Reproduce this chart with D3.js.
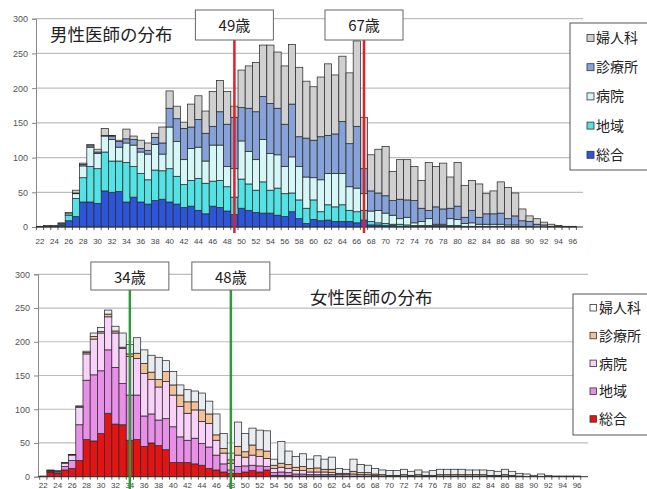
<!DOCTYPE html>
<html><head><meta charset="utf-8">
<script src="https://cdn.jsdelivr.net/npm/d3@7"></script>
<style>html,body{margin:0;padding:0;background:#fff}svg{display:block}</style>
</head><body><svg id="c" width="647" height="489"></svg>
<script>
// ---------- data ----------
const ages = [22,23,24,25,26,27,28,29,30,31,32,33,34,35,36,37,38,39,40,41,42,43,44,45,46,47,48,49,50,51,52,53,54,55,56,57,58,59,60,61,62,63,64,65,66,67,68,69,70,71,72,73,74,75,76,77,78,79,80,81,82,83,84,85,86,87,88,89,90,91,92,93,94,95,96];
const xTickAges = [22,24,26,28,30,32,34,36,38,40,42,44,46,48,50,52,54,56,58,60,62,64,66,68,70,72,74,76,78,80,82,84,86,88,90,92,94,96];
const yTicks = [0,50,100,150,200,250,300];
const seriesNames = ["総合","地域","病院","診療所","婦人科"];
const legendOrder = ["婦人科","診療所","病院","地域","総合"];

const maleSogo = [1,1,1,2,9,15,36,36,34,52, 50,51,36,43,36,33,38,40,36,33, 28,30,24,19,30,28,23,18,27,24, 21,20,20,17,15,22,12,5,11,9, 10,8,8,8,6,10,3,3,2,2, 1,1,1,1,1,1,1,1,1,0, 0,0,0,0,0,0,0,0,0,0,0,0,0,0,0];
const maleChiiki = [0,0,1,2,8,26,35,51,50,56, 45,44,57,44,41,35,44,41,48,40, 33,37,46,44,36,39,35,25,42,38, 32,45,33,39,33,27,27,22,28,13, 22,21,24,16,16,14,5,3,3,2, 3,2,1,1,1,1,1,1,1,1, 1,1,1,1,1,1,1,0,0,0,0,0,0,0,0];
const maleByoin = [0,0,0,1,2,7,17,28,22,23, 31,20,28,31,31,37,37,24,60,50, 36,46,45,32,52,51,29,41,55,47, 44,61,53,48,39,52,48,45,32,46, 45,48,45,34,34,24,15,18,15,13, 8,11,4,6,10,2,2,10,9,4, 5,3,3,3,3,2,2,1,1,0,0,0,0,0,0];
const maleShinryo = [0,0,0,0,0,1,2,2,2,1, 5,8,6,8,5,5,10,16,27,33, 45,31,40,40,27,48,61,74,48,62, 69,62,72,67,61,76,43,56,54,62, 55,57,75,62,89,36,29,25,25,21, 28,25,32,19,12,25,22,15,19,9, 18,10,15,15,16,9,13,8,7,4,3,1,1,0,0];
const maleFujin = [0,1,0,1,2,4,2,2,4,10, 1,2,14,5,12,11,6,23,25,18, 9,33,34,32,50,45,47,16,54,61, 71,74,84,81,84,86,100,82,77,86, 103,85,94,102,123,74,52,63,71,42, 57,58,49,40,69,58,66,45,63,46, 43,48,29,33,45,45,33,17,8,8,4,3,1,1,1];

const femaleSogo = [1,7,5,10,12,24,55,53,64,94, 78,77,54,55,45,50,46,40,21,21, 21,19,17,12,10,7,5,5,7,9, 7,10,2,2,2,1,1,1,1,1, 1,0,0,0,0,0,0,0,0,0, 0,0,0,0,0,0,0,0,0,0, 0,0,0,0,0,0,0,0,0,0,0,0,0,0,0];
const femaleChiiki = [0,1,2,5,12,53,88,98,93,94, 84,61,67,66,45,43,38,46,53,38, 33,38,32,32,22,12,5,10,9,8, 9,5,4,5,4,3,3,2,2,2, 2,1,1,1,1,1,0,0,0,0, 0,0,0,0,0,0,0,0,0,0, 0,0,0,0,0,0,0,0,0,0,0,0,0,0,0];
const femaleByoin = [0,1,1,5,8,26,39,53,56,49, 51,52,57,54,63,51,49,55,47,45, 40,42,33,35,22,16,10,17,13,15, 14,12,6,7,6,5,5,4,4,4, 3,2,2,3,2,2,2,1,1,1, 1,1,1,1,1,1,1,1,1,1, 1,1,1,1,1,1,0,0,0,0,0,0,0,0,0];
const femaleShinryo = [0,0,0,0,0,1,2,4,2,4, 3,2,4,8,15,11,11,15,15,17, 17,12,17,14,8,7,5,13,8,15, 10,11,5,6,6,5,6,5,6,4, 5,2,2,4,3,3,2,2,1,1, 2,1,2,1,1,2,2,2,2,2, 2,2,1,1,2,1,1,0,0,0,0,0,0,0,0];
const femaleFujin = [0,1,1,1,1,1,2,5,6,6, 7,21,14,23,20,25,33,16,20,15, 18,16,25,19,31,22,10,36,27,25, 29,30,9,32,20,16,19,14,18,15, 18,7,6,18,12,11,8,7,7,7, 8,6,7,5,7,8,8,8,8,7, 7,7,7,6,8,6,4,4,2,4,2,1,1,1,1];

const maleMarkers = [49,67];
const femaleMarkers = [34,48];
const maleTitle = "男性医師の分布";
const femaleTitle = "女性医師の分布";

// ---------- drawing ----------
const svg = d3.select("#c");
svg.append("rect").attr("width",647).attr("height",489).attr("fill","#fff");
const numFont = "'Liberation Sans', Arial, sans-serif";
const jpFont = "'Noto Sans CJK JP', 'Noto Sans', sans-serif";

function panel(cfg){
  const rows = ages.map((a,i)=>{
    const r = {age:a};
    seriesNames.forEach((k,j)=>{ r[k] = cfg.series[j][i]; });
    return r;
  });
  const color = d3.scaleOrdinal().domain(seriesNames).range(cfg.colors);
  const x = d3.scaleBand().domain(ages).range(cfg.xRange).paddingInner(0).paddingOuter(0);
  const y = d3.scaleLinear().domain([0,300]).range([cfg.y0, cfg.yTop]);
  const g = svg.append("g");

  // gridlines
  g.append("g").selectAll("line").data(yTicks.filter(t=>t>0)).join("line")
    .attr("x1",cfg.axisX).attr("x2",cfg.gridEnd)
    .attr("y1",d=>y(d)).attr("y2",d=>y(d))
    .attr("stroke","#bdbdbd").attr("stroke-width",1.2);

  // y axis
  const yAxis = d3.axisLeft(y).tickValues(yTicks).tickSize(4).tickPadding(4);
  const ya = g.append("g").attr("transform",`translate(${cfg.axisX},0)`).call(yAxis);
  ya.select(".domain").attr("stroke","#888");
  ya.selectAll(".tick line").attr("stroke","#888");
  ya.selectAll("text").attr("font-family",numFont).attr("font-size",9).attr("fill","#555");

  // stacked bars
  const stack = d3.stack().keys(seriesNames)(rows);
  g.append("g").selectAll("g").data(stack).join("g")
    .attr("fill",d=>color(d.key))
    .selectAll("rect").data(d=>d.filter(p=>p[1]-p[0]>0)).join("rect")
    .attr("x",d=>x(d.data.age)).attr("width",x.bandwidth())
    .attr("y",d=>y(d[1])).attr("height",d=>y(d[0])-y(d[1]))
    .attr("stroke","#2b2b2b").attr("stroke-width",0.75);

  // x axis
  g.append("line").attr("x1",cfg.axisX).attr("x2",cfg.gridEnd)
    .attr("y1",cfg.y0).attr("y2",cfg.y0).attr("stroke","#333").attr("stroke-width",1);
  const bounds = ages.map(a=>x(a)).concat([x(ages[ages.length-1])+x.bandwidth()]);
  g.append("g").selectAll("line").data(bounds).join("line")
    .attr("x1",d=>d).attr("x2",d=>d).attr("y1",cfg.y0).attr("y2",cfg.y0+3)
    .attr("stroke","#333").attr("stroke-width",0.8);
  g.append("g").selectAll("text").data(xTickAges).join("text")
    .attr("x",d=>x(d)+x.bandwidth()/2).attr("y",cfg.labelY)
    .attr("text-anchor","middle").attr("font-family",numFont).attr("font-size",8)
    .attr("fill","#444").text(d=>d);

  // marker lines and boxes
  cfg.markers.forEach(m=>{
    const cx = x(m)+x.bandwidth()/2;
    g.append("line").attr("x1",cx).attr("x2",cx).attr("y1",cfg.boxBottom).attr("y2",cfg.lineBottom)
      .attr("stroke",cfg.markerColor).attr("stroke-width",2.5);
    g.append("rect").attr("x",cx-39).attr("y",cfg.boxTop).attr("width",78).attr("height",cfg.boxBottom-cfg.boxTop)
      .attr("fill","#fff").attr("stroke","#666").attr("stroke-width",1);
    g.append("text").attr("x",cx).attr("y",cfg.boxTop+21).attr("text-anchor","middle")
      .attr("font-family",jpFont).attr("font-size",15).attr("fill","#222").text(m+"歳");
  });

  // title
  g.append("text").attr("x",cfg.titleX).attr("y",cfg.titleY)
    .attr("font-family",jpFont).attr("font-size",17.5).attr("fill","#222").text(cfg.title);

  // legend
  const L = cfg.legend;
  g.append("rect").attr("x",L.x).attr("y",L.y).attr("width",100).attr("height",L.h)
    .attr("fill","#fff").attr("stroke","#555").attr("stroke-width",1);
  legendOrder.forEach((k,i)=>{
    const cy = L.first + i*L.step;
    g.append("rect").attr("x",L.x+17).attr("y",cy-3.5).attr("width",L.sq).attr("height",L.sq)
      .attr("fill",k==="婦人科"&&cfg.whiteFujin?"#fff":color(k)).attr("stroke","#333").attr("stroke-width",0.8);
    g.append("text").attr("x",L.x+26).attr("y",cy+5).attr("font-family",jpFont)
      .attr("font-size",14).attr("fill","#222").text(k);
  });
}

panel({
  series:[maleSogo,maleChiiki,maleByoin,maleShinryo,maleFujin],
  colors:["#2d55da","#55e2e4","#d6f7f7","#86a2d8","#d0d0d0"],
  xRange:[36.4,576.4], y0:227, yTop:18.7, axisX:36, gridEnd:583, labelY:244,
  markers:maleMarkers, markerColor:"#e0202a", boxTop:10, boxBottom:40, lineBottom:233,
  title:maleTitle, titleX:50, titleY:41,
  legend:{x:570, y:23, h:147, first:38, step:29.2, sq:7},
  whiteFujin:false
});
panel({
  series:[femaleSogo,femaleChiiki,femaleByoin,femaleShinryo,femaleFujin],
  colors:["#e41414","#e88fe8","#f8d2f8","#f3c196","#e9edf2"],
  xRange:[39.7,580.7], y0:476.7, yTop:274.3, axisX:38, gridEnd:588, labelY:487.5,
  markers:femaleMarkers, markerColor:"#2f9a3a", boxTop:262, boxBottom:290, lineBottom:489,
  title:femaleTitle, titleX:310, titleY:304,
  legend:{x:573, y:294, h:141, first:308, step:27.8, sq:6.5},
  whiteFujin:true
});
</script></body></html>
